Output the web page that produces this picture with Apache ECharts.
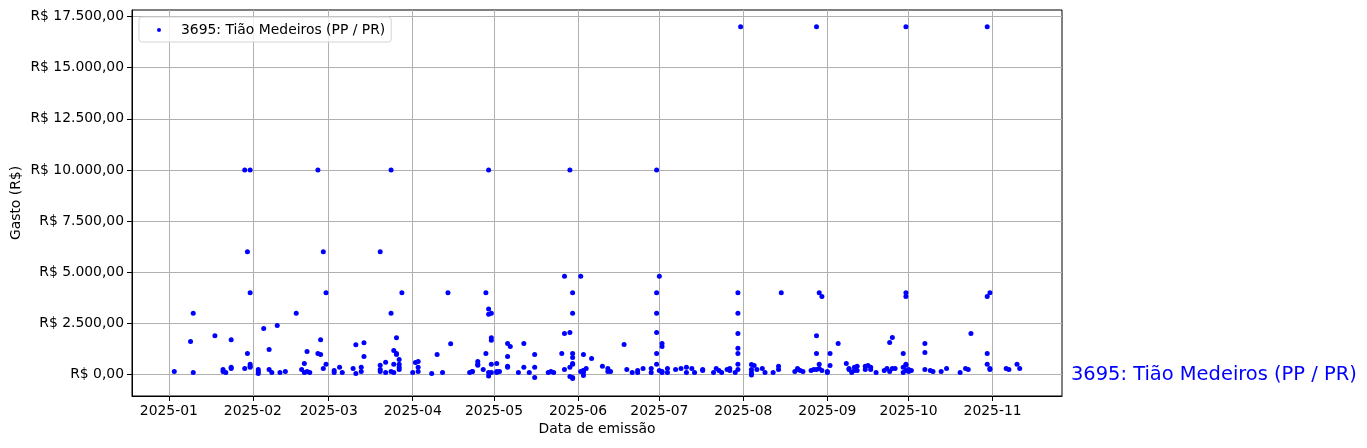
<!DOCTYPE html>
<html><head><meta charset="utf-8">
<script src="https://cdn.jsdelivr.net/npm/echarts@6/dist/echarts.min.js"></script>
<style>html,body{margin:0;padding:0;background:#fff}#c{width:1367px;height:448px}</style>
</head><body><div id="c"></div>
<script>
const seriesName = '3695: Tião Medeiros (PP / PR)';
const xAxisTitle = 'Data de emissão';
const yAxisTitle = 'Gasto (R$)';

const dates = [
 '2025-01-03','2025-01-09','2025-01-10','2025-01-10','2025-01-18','2025-01-21','2025-01-21','2025-01-22',
 '2025-01-24','2025-01-24','2025-01-24','2025-01-29','2025-01-29','2025-01-30','2025-01-30',
 '2025-01-31','2025-01-31','2025-01-31','2025-01-31','2025-01-31',
 '2025-02-03','2025-02-03','2025-02-03','2025-02-05','2025-02-07','2025-02-07','2025-02-08','2025-02-10',
 '2025-02-11','2025-02-13','2025-02-17','2025-02-19','2025-02-20','2025-02-20','2025-02-21','2025-02-21',
 '2025-02-22','2025-02-25','2025-02-25','2025-02-26','2025-02-26','2025-02-27','2025-02-27','2025-02-28','2025-02-28',
 '2025-03-03','2025-03-03','2025-03-05','2025-03-06','2025-03-10','2025-03-11','2025-03-11','2025-03-13','2025-03-13',
 '2025-03-14','2025-03-14','2025-03-20','2025-03-20','2025-03-20','2025-03-20','2025-03-22','2025-03-22',
 '2025-03-24','2025-03-24','2025-03-24','2025-03-25','2025-03-25','2025-03-25','2025-03-26','2025-03-26','2025-03-26',
 '2025-03-27','2025-03-27','2025-03-27','2025-03-27','2025-03-28',
 '2025-04-01','2025-04-02','2025-04-03','2025-04-03','2025-04-03','2025-04-08','2025-04-10','2025-04-12',
 '2025-04-14','2025-04-15','2025-04-22','2025-04-23','2025-04-23','2025-04-25','2025-04-25','2025-04-25',
 '2025-04-27','2025-04-28','2025-04-28','2025-04-29','2025-04-29','2025-04-29','2025-04-29','2025-04-29',
 '2025-04-30','2025-04-30','2025-04-30','2025-04-30','2025-04-30',
 '2025-05-02','2025-05-02','2025-05-02','2025-05-03','2025-05-06','2025-05-06','2025-05-06','2025-05-06','2025-05-07',
 '2025-05-10','2025-05-12','2025-05-12','2025-05-14','2025-05-16','2025-05-16','2025-05-16','2025-05-21',
 '2025-05-22','2025-05-23','2025-05-26','2025-05-27','2025-05-27','2025-05-27','2025-05-29','2025-05-29',
 '2025-05-29','2025-05-29','2025-05-30','2025-05-30','2025-05-30','2025-05-30','2025-05-30','2025-05-30',
 '2025-05-30','2025-05-30',
 '2025-06-02','2025-06-02','2025-06-03','2025-06-03','2025-06-03','2025-06-03','2025-06-03','2025-06-04',
 '2025-06-06','2025-06-10','2025-06-12','2025-06-12','2025-06-13','2025-06-18','2025-06-19','2025-06-21',
 '2025-06-23','2025-06-23','2025-06-25','2025-06-28','2025-06-28','2025-06-30','2025-06-30','2025-06-30',
 '2025-06-30','2025-06-30','2025-06-30',
 '2025-07-01','2025-07-01','2025-07-02','2025-07-02','2025-07-02','2025-07-02','2025-07-04','2025-07-04',
 '2025-07-07','2025-07-09','2025-07-11','2025-07-11','2025-07-13','2025-07-14','2025-07-17','2025-07-17',
 '2025-07-21','2025-07-22','2025-07-23','2025-07-24','2025-07-26','2025-07-27','2025-07-27','2025-07-29',
 '2025-07-30','2025-07-30','2025-07-30','2025-07-30','2025-07-30','2025-07-30','2025-07-30','2025-07-31',
 '2025-08-04','2025-08-04','2025-08-04','2025-08-04','2025-08-05','2025-08-06','2025-08-08','2025-08-09',
 '2025-08-12','2025-08-14','2025-08-14','2025-08-15','2025-08-20','2025-08-21','2025-08-21','2025-08-22',
 '2025-08-23','2025-08-26','2025-08-27','2025-08-28','2025-08-28','2025-08-28','2025-08-28','2025-08-29',
 '2025-08-29','2025-08-29','2025-08-30','2025-08-30',
 '2025-09-01','2025-09-01','2025-09-02','2025-09-02','2025-09-05','2025-09-08','2025-09-09','2025-09-09',
 '2025-09-10','2025-09-11','2025-09-11','2025-09-12','2025-09-12','2025-09-15','2025-09-15','2025-09-16',
 '2025-09-17','2025-09-17','2025-09-19','2025-09-22','2025-09-23','2025-09-24','2025-09-24','2025-09-25',
 '2025-09-25','2025-09-26','2025-09-29','2025-09-29','2025-09-29','2025-09-30','2025-09-30','2025-09-30',
 '2025-09-30','2025-09-30','2025-09-30',
 '2025-10-01','2025-10-01','2025-10-02','2025-10-07','2025-10-07','2025-10-07','2025-10-09','2025-10-10',
 '2025-10-13','2025-10-15','2025-10-20','2025-10-22','2025-10-23','2025-10-24','2025-10-30','2025-10-30',
 '2025-10-30','2025-10-30','2025-10-31','2025-10-31','2025-10-31',
 '2025-11-06','2025-11-07','2025-11-10','2025-11-11'
];
const amounts = [
 150,1620,3000,100,1900,250,150,100,
 1700,350,300,300,10000,6000,1030,
 10000,4000,500,400,350,
 250,150,50,2250,1220,250,100,2400,
 100,150,3000,250,540,100,1130,150,
 100,10000,1030,980,1700,6000,300,4000,500,
 200,100,350,100,300,1450,50,350,150,
 1550,880,6000,450,250,150,600,100,
 10000,3000,150,1180,500,100,1030,980,1800,
 740,500,350,250,4000,
 100,590,640,350,150,50,980,100,
 4000,1500,100,150,150,640,500,450,
 250,4000,1030,10000,3200,100,2950,-70,
 3000,100,500,1800,1670,
 540,100,150,150,880,400,350,1520,1370,
 100,350,1520,100,350,980,-150,100,
 150,100,1030,2010,250,4800,10000,2060,
 350,-100,4000,3000,1030,830,540,500,
 -150,-200,
 4800,150,200,100,980,200,-50,300,
 780,400,300,150,150,1470,250,100,
 200,100,300,300,100,10000,4000,3000,
 2060,1030,500,
 4800,200,1370,1520,150,100,300,100,
 250,300,350,100,300,100,250,200,
 100,300,200,100,250,300,200,100,
 4000,3000,2010,1280,1030,500,250,17000,
 490,250,100,-20,440,250,300,100,
 100,400,250,4000,150,250,300,200,
 150,200,250,17000,1900,1030,250,4000,
 500,300,200,3820,
 150,100,1030,440,1520,540,300,250,
 100,350,200,400,200,400,250,440,
 350,250,100,200,300,150,1570,300,
 1810,300,1030,350,100,450,200,17000,
 4000,3820,500,
 250,150,200,1520,1080,250,200,150,
 150,300,100,300,250,2010,17000,3820,
 1030,500,300,4000,250,
 300,250,500,300
];
const monthTicks = ['2025-01-01','2025-02-01','2025-03-01','2025-04-01','2025-05-01','2025-06-01',
  '2025-07-01','2025-08-01','2025-09-01','2025-10-01','2025-11-01'];
const yTicks = [0,2500,5000,7500,10000,12500,15000,17500];

const xs = dates.map(d => Date.parse(d));
const xLo = Math.min(...xs), xHi = Math.max(...xs);
const xPad = (xHi - xLo) * 0.05;
const monthTickMs = monthTicks.map(d => Date.parse(d));

function brl(v) {
  const neg = v < 0; v = Math.abs(v);
  const fixed = v.toFixed(2);
  let [ip, dp] = fixed.split('.');
  ip = ip.replace(/\B(?=(\d{3})+(?!\d))/g, '.');
  return 'R$ ' + (neg ? '-' : '') + ip + ',' + dp;
}
function ym(ms) {
  const d = new Date(ms);
  return d.getUTCFullYear() + '-' + String(d.getUTCMonth() + 1).padStart(2, '0');
}

const FONT = 'DejaVu Sans';
const chart = echarts.init(document.getElementById('c'), null, {renderer: 'canvas'});
const option = {
  animation: false,
  backgroundColor: '#fff',
  grid: {left: 132, right: 305, top: 10, bottom: 52, show: true, borderColor: '#000', borderWidth: 1,
         backgroundColor: '#fff', outerBoundsMode: 'none', containLabel: false},
  legend: {
    left: 139, top: 17, padding: [6, 6, 5, 18], itemWidth: 4, itemHeight: 4, icon: 'circle',
    backgroundColor: 'rgba(255,255,255,0.8)', borderColor: '#d5d5d5', borderWidth: 1, borderRadius: 3,
    textStyle: {fontFamily: FONT, fontSize: 13.9, color: '#000', padding: [0, 0, 0, 15]},
    data: [{name: seriesName, itemStyle: {color: '#0000ff', opacity: 1}}]
  },
  xAxis: {
    type: 'value', min: xLo - xPad, max: xHi + xPad,
    name: xAxisTitle, nameLocation: 'middle', nameGap: 26, nameMoveOverlap: false,
    nameTextStyle: {fontFamily: FONT, fontSize: 13.9, color: '#000'},
    axisLine: {show: true, onZero: false, lineStyle: {color: '#000', width: 1}},
    axisTick: {show: true, length: 5, customValues: monthTickMs, lineStyle: {color: '#000', width: 1}},
    axisLabel: {customValues: monthTickMs, formatter: v => ym(v), margin: 8, fontFamily: FONT, fontSize: 13.9, color: '#000'},
    splitLine: {show: true, lineStyle: {color: '#b0b0b0', width: 1}}
  },
  yAxis: {
    type: 'value', min: -1050, max: 17820,
    name: yAxisTitle, nameLocation: 'middle', nameGap: 109, nameRotate: 90, nameMoveOverlap: false,
    nameTextStyle: {fontFamily: FONT, fontSize: 13.9, color: '#000'},
    axisLine: {show: true, onZero: false, lineStyle: {color: '#000', width: 1}},
    axisTick: {show: true, length: 5, customValues: yTicks, lineStyle: {color: '#000', width: 1}},
    axisLabel: {customValues: yTicks, formatter: v => brl(v), margin: 8, fontFamily: FONT, fontSize: 13.9, color: '#000'},
    splitLine: {show: true, lineStyle: {color: '#b0b0b0', width: 1}}
  },
  series: [{
    type: 'scatter', name: seriesName, symbolSize: 5,
    itemStyle: {color: '#0000ff', opacity: 1},
    data: xs.map((x, i) => [x, amounts[i]])
  }]
};
chart.setOption(option);
const zeroY = chart.convertToPixel({yAxisIndex: 0}, 0);
chart.setOption({
  graphic: [{type: 'text', x: 1071, y: zeroY, style: {text: seriesName, fill: '#0000ff', font: '19.44px "DejaVu Sans"', textVerticalAlign: 'middle', textAlign: 'left'}}]
});
</script></body></html>
